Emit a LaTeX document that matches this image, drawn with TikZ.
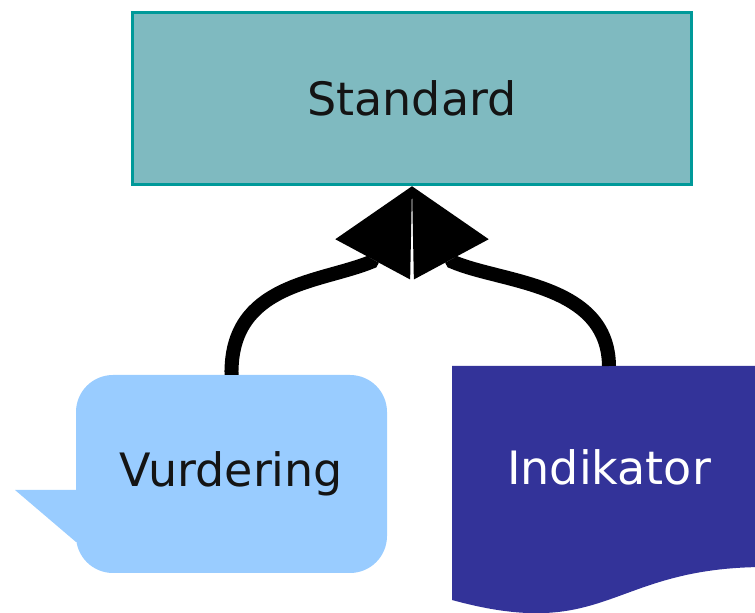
\documentclass[tikz,border=0pt]{standalone}
\usepackage{fontspec}
\setmainfont{DejaVu Sans}
\usetikzlibrary{arrows.meta}
\definecolor{stdfill}{RGB}{127,186,192}
\definecolor{stdline}{RGB}{0,153,153}
\definecolor{vurdfill}{RGB}{153,204,255}
\definecolor{indfill}{RGB}{51,51,153}
\definecolor{txt}{RGB}{20,20,20}

\begin{document}
\begin{tikzpicture} [x=1pt,y=1pt,
  box/.style={font=\fontsize{46pt}{50pt}\selectfont, inner sep=0pt, text=txt},
  conn/.style={line width=14pt, -{Triangle[length=83pt,width=85pt,line width=0pt]}}]
\useasboundingbox (0,0) rectangle (755,613);
\clip (0,0) rectangle (755,613);
% top box
\node[box, draw=stdline, line width=3.5pt, fill=stdfill, minimum width=559pt, minimum height=172pt] (std) at (412,514.5) {Standard};
% callout, left
\node[box, fill=vurdfill, rounded corners=37pt, minimum width=311pt, minimum height=198pt] (vurd) at (231.5,139) {Vurdering};
\fill[vurdfill] (100,123) -- (15,123) -- (76,71) -- (100,71) -- cycle;
% document, right
\fill[indfill] (452,247) -- (766,247) -- (766,46) .. controls (609,46) and (609,-30) .. (452,13) -- cycle;
\node[box, text=white] (indik) at (609,145.5) {Indikator};
\coordinate (indtop) at (609,247);
% arrows
\draw[conn] (vurd.north) .. controls (230,330) and (320,330) .. (371.4,351.2) -- (std.south);
\draw[conn] (indtop) .. controls (608,330) and (502,330) .. (452.6,351.2) -- (std.south);
\end{tikzpicture}
\end{document}
